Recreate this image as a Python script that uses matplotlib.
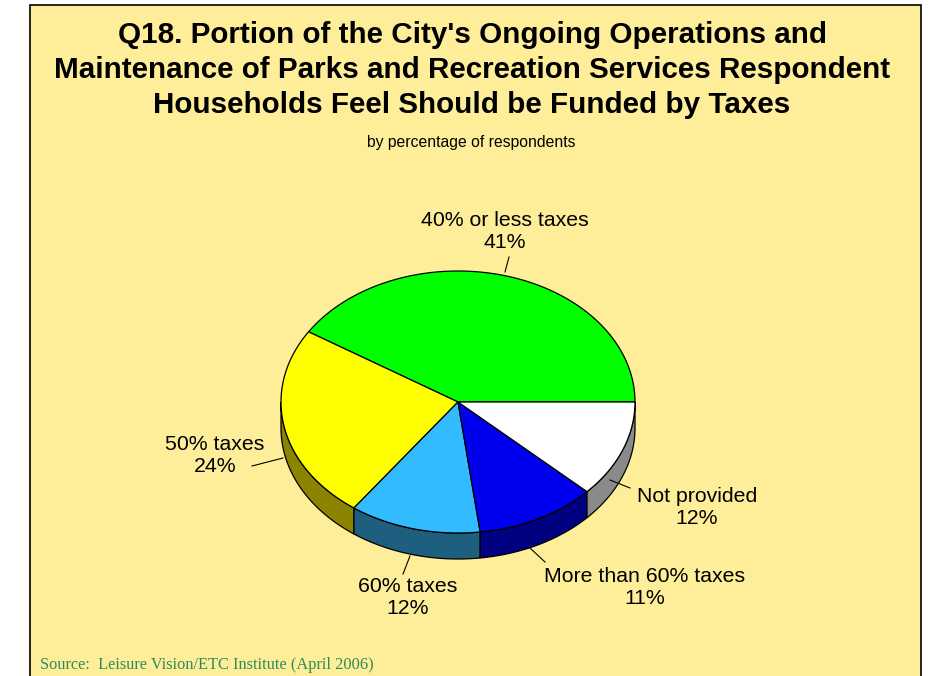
import numpy as np
import matplotlib
matplotlib.use("Agg")
import matplotlib.pyplot as plt
from matplotlib.patches import Polygon, Rectangle

plt.rcParams['font.family'] = ['Liberation Sans', 'DejaVu Sans']

# Survey results
categories = ["40% or less taxes", "50% taxes", "60% taxes",
              "More than 60% taxes", "Not provided"]
values = [41, 24, 12, 11, 12]
top_colors = ["#00FF00", "#FFFF00", "#33BBFF", "#0000EE", "#FFFFFF"]
side_colors = ["#008000", "#8C8400", "#1E5F80", "#000080", "#8A8A8A"]

title = ("Q18. Portion of the City's Ongoing Operations and\n"
         "Maintenance of Parks and Recreation Services Respondent\n"
         "Households Feel Should be Funded by Taxes")
subtitle = "by percentage of respondents"
source = "Source:  Leisure Vision/ETC Institute (April 2006)"

W, H = 932, 676
fig = plt.figure(figsize=(W / 100, H / 100), dpi=100)
ax = fig.add_axes([0, 0, 1, 1])
ax.set_xlim(0, W)
ax.set_ylim(H, 0)
ax.axis("off")
fig.patch.set_facecolor("white")

# framed panel
ax.add_patch(Rectangle((30, 5), 891, 700, facecolor="#FFEE99",
                       edgecolor="black", lw=1.2, zorder=0))

# 3D pie geometry (pixel space)
cx, cy = 458, 402
rx, ry = 177, 131
depth = 26


def pt(t):
    return cx + rx * np.cos(t), cy - ry * np.sin(t)


fracs = np.array(values) / sum(values)
bounds = np.concatenate([[0], np.cumsum(fracs)]) * 2 * np.pi

# side walls (only the front half, angles in (pi, 2pi))
for i in range(len(values)):
    a0, a1 = bounds[i], bounds[i + 1]
    lo, hi = max(a0, np.pi), min(a1, 2 * np.pi)
    if hi <= lo:
        continue
    ts = np.linspace(lo, hi, 80)
    xs, ys = pt(ts)
    verts = list(zip(xs, ys)) + list(zip(xs[::-1], ys[::-1] + depth))
    ax.add_patch(Polygon(verts, closed=True, facecolor=side_colors[i],
                         edgecolor="black", lw=0.9, zorder=2))

# top faces
for i in range(len(values)):
    ts = np.linspace(bounds[i], bounds[i + 1], 200)
    xs, ys = pt(ts)
    verts = [(cx, cy)] + list(zip(xs, ys))
    ax.add_patch(Polygon(verts, closed=True, facecolor=top_colors[i],
                         edgecolor="black", lw=0.9, zorder=3))

# labels with leader lines
label_pos = [(505, 231), (215, 455), (408, 597), (645, 587), (697, 507)]
leaders = [((509, 257), (505, 272)), ((252, 466), (283, 458)),
           ((403, 574), (410, 556)), ((545, 562), (530, 548)),
           ((630, 488), (610, 480))]
for i, cat in enumerate(categories):
    x, y = label_pos[i]
    ax.text(x, y, f"{cat}\n{values[i]}%", ha="center", va="center",
            fontsize=15.3, linespacing=1.2, color="black", zorder=5)
    (x0, y0), (x1, y1) = leaders[i]
    ax.plot([x0, x1], [y0, y1], color="black", lw=0.8, zorder=4)

ax.text(472, 70, title, ha="center", va="center", fontsize=21.3,
        fontweight="bold", linespacing=1.33, zorder=5)
ax.text(471, 143, subtitle, ha="center", va="center", fontsize=11.3, zorder=5)
ax.text(40, 665, source, ha="left", va="center", fontsize=11.8,
        family=["Liberation Serif", "DejaVu Serif"], color="#2E8B57", zorder=5)

fig.savefig("out.png", dpi=100)
